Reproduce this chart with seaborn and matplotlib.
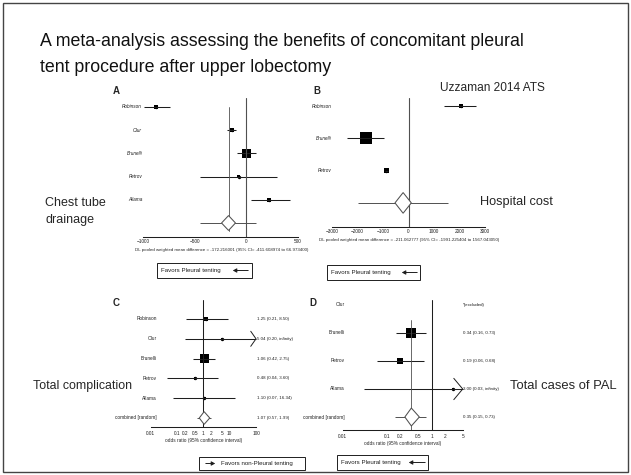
"""
Slide recreation: four forest plots from the pleural tent meta-analysis
(Uzzaman 2014 ATS). Values read off the original slide.
"""

import numpy as np
import pandas as pd
import matplotlib
matplotlib.use('Agg')
import matplotlib.pyplot as plt
import matplotlib.transforms as mtransforms
from matplotlib.patches import Rectangle, Polygon, FancyArrowPatch
import seaborn as sns

W, H = 631, 475

# --- A: chest tube drainage (weighted mean difference) ---
a_names = ['Robinson', 'Olur', 'Brunelli', 'Petrov', 'Allama']
a_est = [-870, -140, 0, -75, 222]
a_lo = [-995, -185, -90, -445, 50]
a_hi = [-735, -100, 95, 300, 425]
a_wt = [12, 14, 60, 5, 10]
a_pool = -172.2
a_pool_ci = [-445, 95]
a_diamond = [-240, -105]
a_ticks = [-1000, -500, 0, 500]
a_note = 'DL pooled weighted mean difference = -172.216001 (95% CI= -411.608974 to 66.973400)'

# --- B: hospital cost (weighted mean difference) ---
b_names = ['Robinson', 'Brunelli', 'Petrov']
b_est = [2060, -1680, -870]
b_lo = [1400, -2420, -930]
b_hi = [2650, -980, -810]
b_wt = [10, 60, 12]
b_pool = -211.1
b_pool_ci = [-1991.2, 1567.0]
b_diamond = [-530, 110]
b_ticks = [-3000, -2000, -1000, 0, 1000, 2000, 3000]
b_note = 'DL pooled weighted mean difference = -211.062777 (95% CI= -1991.225404 to 1567.043050)'

# --- C: total complication (odds ratio) ---
c_names = ['Robinson', 'Olur', 'Brunelli', 'Petrov', 'Allama']
c_est = [1.25, 5.04, 1.06, 0.48, 1.10]
c_lo = [0.21, 0.20, 0.42, 0.04, 0.07]
c_hi = [8.50, np.inf, 2.75, 3.60, 16.34]
c_wt = [12, 2, 60, 4, 4]
c_pool = 1.07
c_pool_ci = [0.57, 1.99]
c_diamond = [0.70, 1.75]
c_ticks = [0.01, 0.1, 0.2, 0.5, 1, 2, 5, 10, 100]

# --- D: total cases of PAL (odds ratio) ---
d_names = ['Olur', 'Brunelli', 'Petrov', 'Allama']
d_est = [np.nan, 0.34, 0.19, 3.00]
d_lo = [np.nan, 0.16, 0.06, 0.03]
d_hi = [np.nan, 0.73, 0.68, np.inf]
d_wt = [0, 60, 22, 1]
d_pool = 0.35
d_pool_ci = [0.15, 0.73]
d_diamond = [0.25, 0.53]
d_ticks = [0.01, 0.1, 0.2, 0.5, 1, 2, 5]

FONT = ['Liberation Sans', 'DejaVu Sans']
INK = '#1e1e1e'
GREY = '#505050'


def fx(x):
    return x / W


def fy(y):
    return 1 - y / H


def add_panel(fig, left, right, top, bottom):
    ax = fig.add_axes([fx(left), fy(bottom), (right - left) / W, (bottom - top) / H])
    ax.patch.set_visible(False)
    for s in ['top', 'right', 'left']:
        ax.spines[s].set_visible(False)
    ax.spines['bottom'].set_linewidth(0.75)
    ax.spines['bottom'].set_color(INK)
    ax.set_yticks([])
    return ax


def forest(ax, names, est, lo, hi, wt, pool, pool_ci, diamond,
           row0, step, top, bottom, max_side, label_x, italic=True, pool_label=None):
    n = len(names)
    rows = np.arange(n)
    ax.set_ylim((bottom - row0) / step, (top - row0) / step)
    xmax = ax.get_xlim()[1]
    log = ax.get_xscale() == 'log'

    # confidence interval lines (with open chevron when unbounded)
    for r, l, h in zip(rows, lo, hi):
        if np.isnan(l):
            continue
        ax.hlines(r, l, min(h, xmax), color=INK, lw=0.75, clip_on=False)
        if np.isinf(h):
            back = xmax / 10 ** 0.2 if log else xmax
            ax.plot([back, xmax, back], [r - 0.38, r, r + 0.38],
                    color=INK, lw=0.7, clip_on=False)

    df = pd.DataFrame({'est': est, 'row': rows, 'wt': wt}).dropna()
    sns.scatterplot(data=df, x='est', y='row', size='wt', size_norm=(0, max(wt)),
                    sizes=(0, (max_side * 0.72) ** 2), marker='s', color='black',
                    linewidth=0, legend=False, ax=ax, clip_on=False)
    sns.scatterplot(data=df, x='est', y='row', marker='o', s=6, color='black',
                    linewidth=0, legend=False, ax=ax, clip_on=False)

    # pooled estimate
    ax.hlines(n, pool_ci[0], pool_ci[1], color=GREY, lw=0.7)
    ax.add_patch(Polygon([(diamond[0], n), (pool, n - 0.32), (diamond[1], n),
                          (pool, n + 0.32)], closed=True, facecolor='white',
                         edgecolor=GREY, lw=0.75, zorder=3))

    trans = mtransforms.blended_transform_factory(ax.transAxes, ax.transData)
    labels = list(names) + ([pool_label] if pool_label else [])
    for r, name in enumerate(labels):
        ax.text(label_x, r, name, transform=trans, ha='right', va='center',
                fontsize=3.4, style='italic' if italic else 'normal', color=INK)
    ax.set_xlabel('')
    ax.set_ylabel('')
    return trans


def legend_box(fig, x0, y0, x1, y1, text, arrow_left=True, text_x=None, arr=None):
    fig.add_artist(Rectangle((fx(x0), fy(y1)), (x1 - x0) / W, (y1 - y0) / H,
                             transform=fig.transFigure, fill=False,
                             edgecolor=INK, lw=0.7))
    yc = fy((y0 + y1) / 2)
    fig.text(fx(text_x), yc, text, fontsize=4.4, va='center', ha='left', color=INK)
    a0, a1 = arr
    start, end = (a1, a0) if arrow_left else (a0, a1)
    fig.add_artist(FancyArrowPatch((fx(start), yc), (fx(end), yc),
                                   transform=fig.transFigure,
                                   arrowstyle='-|>,head_length=2.2,head_width=1.2',
                                   color=INK, lw=0.7))


def write_column(ax, trans, x, est, lo, hi):
    for r, (e, l, h) in enumerate(zip(est, lo, hi)):
        if np.isnan(e):
            txt = '*(excluded)'
        else:
            hs = 'infinity' if np.isinf(h) else f'{h:.2f}'
            txt = f'{e:.2f} ({l:.2f}, {hs})'
        ax.text(x, r, txt, transform=trans, fontsize=3.2, va='center',
                ha='left', color=INK)


def main():
    sns.set_theme(style='white')
    plt.rcParams['font.family'] = FONT
    plt.rcParams['xtick.labelsize'] = 3.4
    plt.rcParams['xtick.color'] = INK

    fig = plt.figure(figsize=(W / 100, H / 100), dpi=100)
    fig.patch.set_facecolor('white')

    # slide frame and title
    fig.add_artist(Rectangle((fx(3), fy(472)), 625 / W, 469 / H,
                             transform=fig.transFigure, fill=False,
                             edgecolor='#444444', lw=1.0))
    fig.text(fx(40), fy(41), 'A meta-analysis assessing the benefits of concomitant pleural',
             fontsize=12.8, va='center', ha='left', color='#111111')
    fig.text(fx(40), fy(67), 'tent procedure after upper lobectomy',
             fontsize=12.8, va='center', ha='left', color='#111111')
    fig.add_artist(Rectangle((fx(185), fy(86)), 150 / W, 8.5 / H,
                             transform=fig.transFigure, facecolor='white',
                             edgecolor='none', zorder=5))
    fig.text(fx(440), fy(88), 'Uzzaman 2014 ATS', fontsize=8.6, va='center', ha='left')

    # big side labels
    fig.text(fx(45), fy(203), 'Chest tube', fontsize=9, va='center', ha='left')
    fig.text(fx(45), fy(220), 'drainage', fontsize=9, va='center', ha='left')
    fig.text(fx(480), fy(202), 'Hospital cost', fontsize=9.2, va='center', ha='left')
    fig.text(fx(33), fy(386), 'Total complication', fontsize=8.9, va='center', ha='left')
    fig.text(fx(510), fy(386), 'Total cases of PAL', fontsize=9.4, va='center', ha='left')

    for lab, x, y in [('A', 113, 91), ('B', 313, 91), ('C', 113, 303), ('D', 309, 303)]:
        fig.text(fx(x), fy(y), lab, fontsize=7, fontweight='bold', va='center', ha='left')

    # --- Panel A ---
    ax = add_panel(fig, 143, 298, 98, 237)
    ax.set_xlim(-1000, 500)
    forest(ax, a_names, a_est, a_lo, a_hi, a_wt, a_pool, a_pool_ci, a_diamond,
           row0=107, step=23.2, top=98, bottom=237, max_side=9, label_x=-0.005)
    ax.axvline(0, color=GREY, lw=0.8)
    ax.axvline(a_pool, ymin=0.04, ymax=0.935, color=GREY, lw=0.6)
    ax.set_xticks(a_ticks)
    ax.set_xticks(np.arange(-1000, 501, 100), minor=True)
    ax.tick_params(axis='x', which='both', direction='in', pad=1.5, length=2.5, width=0.6)
    ax.tick_params(axis='x', which='minor', length=1.5)
    fig.text(fx(222), fy(250), a_note, fontsize=3.2, ha='center', va='center')
    legend_box(fig, 157, 263, 252, 278, 'Favors Pleural tenting', True, 161, (230, 251))

    # --- Panel B ---
    ax = add_panel(fig, 332, 485, 98, 227)
    ax.set_xlim(-3000, 3000)
    forest(ax, b_names, b_est, b_lo, b_hi, b_wt, b_pool, b_pool_ci, b_diamond,
           row0=106, step=32.3, top=98, bottom=227, max_side=12, label_x=-0.005)
    ax.axvline(0, color=GREY, lw=0.8)
    ax.set_xticks(b_ticks)
    ax.set_xticks(np.arange(-3000, 3001, 250), minor=True)
    ax.tick_params(axis='x', which='both', direction='in', pad=1.5, length=2.5, width=0.6)
    ax.tick_params(axis='x', which='minor', length=1.5)
    fig.text(fx(409), fy(240), b_note, fontsize=3.2, ha='center', va='center')
    legend_box(fig, 327, 265, 420, 280, 'Favors Pleural tenting', True, 331, (399, 420))

    # --- Panel C ---
    ax = add_panel(fig, 150.7, 256, 300, 427)
    ax.set_xscale('log')
    ax.set_xlim(0.01, 100)
    trans = forest(ax, c_names, c_est, c_lo, c_hi, c_wt, c_pool, c_pool_ci, c_diamond,
                   row0=319, step=19.8, top=300, bottom=427, max_side=9,
                   label_x=0.06, italic=False, pool_label='combined [random]')
    ax.axvline(1, color=INK, lw=0.75)
    ax.set_xticks(c_ticks)
    ax.set_xticklabels([f'{t:g}' for t in c_ticks])
    ax.minorticks_off()
    ax.tick_params(axis='x', direction='out', pad=1.2, length=2, width=0.6)
    ax.set_xlabel('odds ratio (95% confidence interval)', fontsize=3.4, labelpad=1)
    write_column(ax, trans, 1.01, c_est + [c_pool], c_lo + [c_pool_ci[0]],
                 c_hi + [c_pool_ci[1]])
    legend_box(fig, 199, 457, 305, 470, 'Favors non-Pleural tenting', False, 221, (203, 218))

    # --- Panel D ---
    ax = add_panel(fig, 342.7, 462.7, 300, 430)
    ax.set_xscale('log')
    ax.set_xlim(0.01, 5)
    trans = forest(ax, d_names, d_est, d_lo, d_hi, d_wt, d_pool, d_pool_ci, d_diamond,
                   row0=305, step=28, top=300, bottom=430, max_side=10,
                   label_x=0.02, italic=False, pool_label='combined [random]')
    ax.axvline(1, color=INK, lw=0.75)
    ax.axvline(d_pool, ymax=0.85, color=GREY, lw=0.6)
    ax.set_xticks(d_ticks)
    ax.set_xticklabels([f'{t:g}' for t in d_ticks])
    ax.minorticks_off()
    ax.tick_params(axis='x', direction='out', pad=1.2, length=2, width=0.6)
    ax.set_xlabel('odds ratio (95% confidence interval)', fontsize=3.4, labelpad=1)
    write_column(ax, trans, 1.005, d_est + [d_pool], d_lo + [d_pool_ci[0]],
                 d_hi + [d_pool_ci[1]])
    legend_box(fig, 337, 455, 428, 470, 'Favors Pleural tenting', True, 341, (406, 428))

    fig.savefig('out.png', dpi=100)
    plt.close(fig)


if __name__ == "__main__":
    main()
